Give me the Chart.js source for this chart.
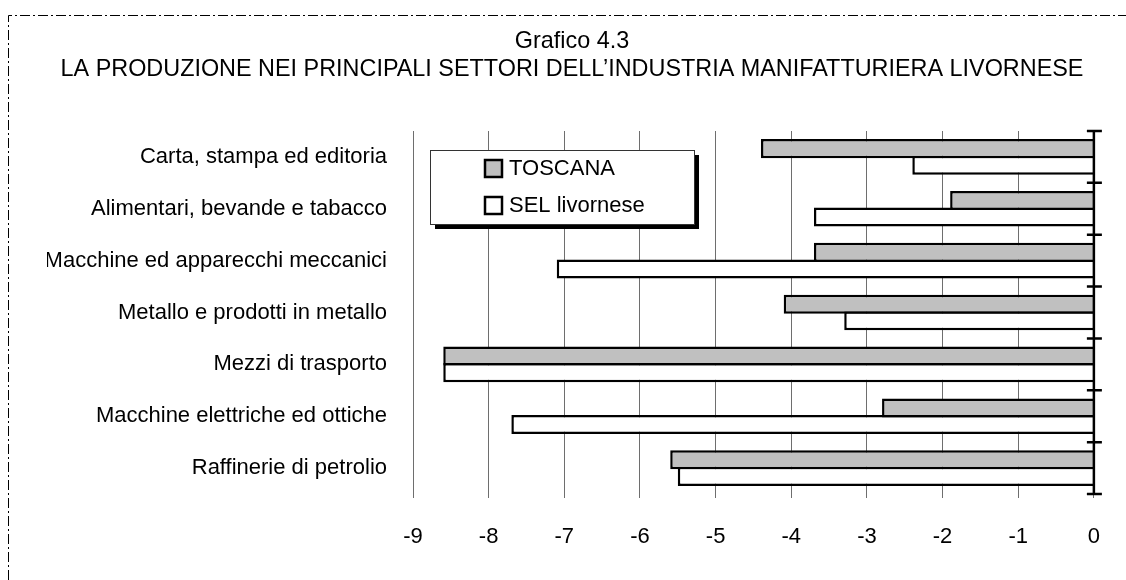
<!DOCTYPE html>
<html>
<head>
<meta charset="utf-8">
<script src="https://cdn.jsdelivr.net/npm/chart.js@4.4.1/dist/chart.umd.min.js"></script>
<style>
  html, body { margin: 0; padding: 0; background: #ffffff; }
  #wrap { width: 1126px; height: 580px; position: relative; }
</style>
</head>
<body>
<div id="wrap"><canvas id="c" width="1126" height="580"></canvas></div>
<script>
const titleLines = ['Grafico 4.3', 'LA PRODUZIONE NEI PRINCIPALI SETTORI DELL\u2019INDUSTRIA MANIFATTURIERA LIVORNESE'];
const categories = [
  'Carta, stampa ed editoria',
  'Alimentari, bevande e tabacco',
  'Macchine ed apparecchi meccanici',
  'Metallo e prodotti in metallo',
  'Mezzi di trasporto',
  'Macchine elettriche ed ottiche',
  'Raffinerie di petrolio'
];
const seriesNames = ['TOSCANA', 'SEL livornese'];
const toscana = [-4.4, -1.9, -3.7, -4.1, -8.6, -2.8, -5.6];
const selLivornese = [-2.4, -3.7, -7.1, -3.3, -8.6, -7.7, -5.5];
const xMin = -9, xMax = 0, xStep = 1;

const FONT = "'Liberation Sans', Arial, sans-serif";
const FS = 22;
const TITLE_FS = 23.4;

const framePlugin = {
  id: 'frame',
  beforeDraw(chart) {
    const ctx = chart.ctx;
    ctx.save();
    ctx.fillStyle = '#ffffff';
    ctx.fillRect(0, 0, chart.width, chart.height);
    ctx.strokeStyle = '#000000';
    ctx.lineWidth = 1;
    ctx.setLineDash([10, 3, 2, 3]);
    ctx.beginPath();
    ctx.moveTo(8.5, chart.height);
    ctx.lineTo(8.5, 15.5);
    ctx.lineTo(chart.width, 15.5);
    ctx.stroke();
    ctx.restore();
  }
};

const axisTicksPlugin = {
  id: 'axisTicks',
  afterDatasetsDraw(chart) {
    const ctx = chart.ctx;
    const a = chart.chartArea;
    const x0 = chart.scales.x.getPixelForValue(0);
    const n = categories.length;
    const step = (a.bottom - a.top) / n;
    ctx.save();
    ctx.strokeStyle = '#000000';
    ctx.lineWidth = 2.5;
    ctx.beginPath();
    ctx.moveTo(x0, a.top);
    ctx.lineTo(x0, a.bottom);
    for (let i = 0; i <= n; i++) {
      const y = a.top + i * step;
      ctx.moveTo(x0 - 7, y);
      ctx.lineTo(x0 + 8, y);
    }
    ctx.stroke();
    ctx.restore();
  }
};

const legendBoxPlugin = {
  id: 'legendBox',
  afterDraw(chart) {
    const ctx = chart.ctx;
    const a = chart.chartArea;
    const bx = a.left + 17, by = a.top + 19, bw = 264, bh = 74;
    ctx.save();
    ctx.fillStyle = '#000000';
    ctx.fillRect(bx + 5, by + 5, bw, bh);
    ctx.fillStyle = '#ffffff';
    ctx.fillRect(bx, by, bw, bh);
    ctx.strokeStyle = '#333333';
    ctx.lineWidth = 1;
    ctx.strokeRect(bx + 0.5, by + 0.5, bw, bh);
    chart.data.datasets.forEach((ds, i) => {
      const sy = by + 10 + i * 37;
      ctx.fillStyle = ds.backgroundColor;
      ctx.fillRect(bx + 55, sy, 17, 17);
      ctx.strokeStyle = '#000000';
      ctx.lineWidth = 2.5;
      ctx.strokeRect(bx + 55, sy, 17, 17);
      ctx.fillStyle = '#000000';
      ctx.font = FS + 'px ' + FONT;
      ctx.textBaseline = 'middle';
      ctx.textAlign = 'left';
      ctx.fillText(ds.label, bx + 79, sy + 9);
    });
    ctx.restore();
  }
};

new Chart(document.getElementById('c'), {
  type: 'bar',
  data: {
    labels: categories,
    datasets: [
      {
        label: seriesNames[0],
        data: toscana,
        backgroundColor: '#c0c0c0',
        borderColor: '#000000',
        borderWidth: 2.5,
        borderSkipped: 'start',
        categoryPercentage: 0.64,
        barPercentage: 1.15
      },
      {
        label: seriesNames[1],
        data: selLivornese,
        backgroundColor: '#ffffff',
        borderColor: '#000000',
        borderWidth: 2.5,
        borderSkipped: 'start',
        categoryPercentage: 0.64,
        barPercentage: 1.15
      }
    ]
  },
  options: {
    indexAxis: 'y',
    responsive: false,
    animation: false,
    layout: { padding: { left: 47, right: 29, top: 0, bottom: 0 } },
    plugins: {
      legend: { display: false },
      tooltip: { enabled: false },
      title: {
        display: true,
        text: titleLines,
        color: '#000000',
        font: { family: FONT, size: TITLE_FS, weight: 'normal', lineHeight: 28 / TITLE_FS },
        padding: { top: 28, bottom: 47 }
      }
    },
    scales: {
      x: {
        type: 'linear',
        min: xMin,
        max: xMax,
        position: 'bottom',
        afterFit(scale) { scale.height = 86; },
        ticks: {
          stepSize: xStep,
          color: '#000000',
          padding: 26,
          font: { family: FONT, size: FS },
          callback: (v) => String(v)
        },
        grid: {
          color: '#6e6e6e',
          lineWidth: 1,
          drawTicks: true,
          tickLength: 4,
          tickColor: '#6e6e6e'
        },
        border: { display: false }
      },
      y: {
        type: 'category',
        position: 'left',
        afterFit(scale) { scale.width = 413 - 47; },
        ticks: {
          color: '#000000',
          padding: 26,
          font: { family: FONT, size: FS }
        },
        grid: { display: false, drawTicks: false },
        border: { display: false }
      }
    }
  },
  plugins: [framePlugin, axisTicksPlugin, legendBoxPlugin]
});
</script>
</body>
</html>
